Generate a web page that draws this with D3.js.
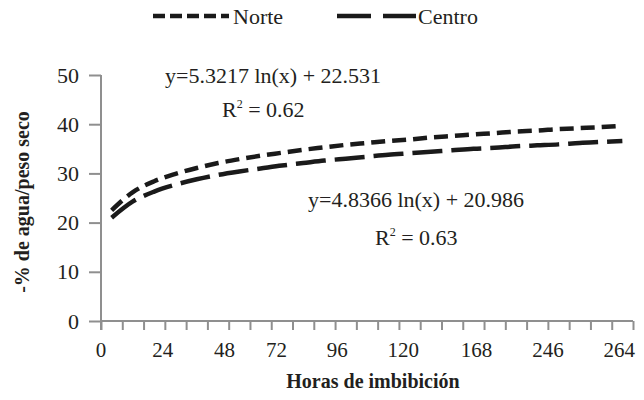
<!DOCTYPE html>
<html>
<head>
<meta charset="utf-8">
<script src="https://cdn.jsdelivr.net/npm/d3@7"></script>
<style>
  body { margin: 0; background: #fff; }
</style>
</head>
<body>
<div id="chart"></div>
<script>
// categories 1..25 (trend line values)
var categories = d3.range(1, 26);
var norte = [22.5, 26.2, 28.4, 29.9, 31.1, 32.1, 32.9, 33.6, 34.2, 34.8, 35.3, 35.8, 36.2,
  36.6, 36.9, 37.3, 37.6, 37.9, 38.2, 38.5, 38.7, 39.0, 39.2, 39.4, 39.7];
var centro = [21.0, 24.3, 26.3, 27.7, 28.8, 29.7, 30.4, 31.0, 31.6, 32.1, 32.6, 33.0, 33.4,
  33.8, 34.1, 34.4, 34.7, 35.0, 35.2, 35.5, 35.7, 35.9, 36.2, 36.4, 36.6];
// x tick labels and where they sit on the category axis
var xLabels = ["0", "24", "48", "72", "96", "120", "168", "246", "264"];
var xLabelPos = [0, 2.9, 5.8, 8.25, 11.1, 14.2, 17.65, 21.0, 24.35];
var yTicks = [0, 10, 20, 30, 40, 50];

var width = 644, height = 400;
var margin = { left: 101, right: 11, top: 75, bottom: 79 };
var w = width - margin.left - margin.right;
var h = height - margin.top - margin.bottom;
var serif = "'Liberation Serif', 'Times New Roman', serif";
var ink = "#231f20";

var svg = d3.select("#chart").append("svg")
  .attr("width", width)
  .attr("height", height)
  .attr("font-family", serif);

var g = svg.append("g")
  .attr("transform", "translate(" + margin.left + "," + margin.top + ")");

var x = d3.scaleLinear().domain([0, 25]).range([0, w]);
var y = d3.scaleLinear().domain([0, 50]).range([h, 0]);

var axisColor = "#8f8f8f";

// y axis
var yAxis = g.append("g")
  .call(d3.axisLeft(y).tickValues(yTicks).tickSize(12).tickPadding(10))
  .attr("font-family", serif)
  .attr("font-size", 22);
yAxis.select(".domain").attr("stroke", axisColor).attr("stroke-width", 2).attr("d", "M0," + (h + 9) + "V0");
yAxis.selectAll(".tick line").attr("stroke", axisColor).attr("stroke-width", 2);
yAxis.selectAll(".tick text").attr("fill", ink);

// x axis: tick marks at category boundaries, labels placed separately
var xAxis = g.append("g")
  .attr("transform", "translate(0," + h + ")")
  .call(d3.axisBottom(x).tickValues(d3.range(0, 26)).tickSize(9).tickFormat(""));
xAxis.select(".domain").attr("stroke", axisColor).attr("stroke-width", 2).attr("d", "M0,0H" + w);
xAxis.selectAll(".tick line").attr("stroke", axisColor).attr("stroke-width", 2);

g.selectAll("text.xlab")
  .data(xLabels)
  .enter()
  .append("text")
  .attr("class", "xlab")
  .attr("x", (d, i) => x(xLabelPos[i]))
  .attr("y", h + 36)
  .attr("text-anchor", "middle")
  .attr("font-size", 21)
  .attr("fill", ink)
  .text((d) => d);

// axis titles
svg.append("text")
  .attr("x", 373)
  .attr("y", 388)
  .attr("text-anchor", "middle")
  .attr("font-size", 20)
  .attr("font-weight", "bold")
  .attr("fill", ink)
  .text("Horas de imbibición");

svg.append("text")
  .attr("transform", "translate(29,202) rotate(-90)")
  .attr("text-anchor", "middle")
  .attr("font-size", 20)
  .attr("font-weight", "bold")
  .attr("fill", ink)
  .text("-% de agua/peso seco");

// trend lines
var line = d3.line()
  .x((d, i) => x(categories[i] - 0.5))
  .y((d) => y(d))
  .curve(d3.curveMonotoneX);

g.append("path")
  .datum(norte)
  .attr("fill", "none")
  .attr("stroke", "#1a1a1a")
  .attr("stroke-width", 4.5)
  .attr("stroke-dasharray", "14,7")
  .attr("d", line);

g.append("path")
  .datum(centro)
  .attr("fill", "none")
  .attr("stroke", "#1a1a1a")
  .attr("stroke-width", 4.5)
  .attr("stroke-dasharray", "30,9")
  .attr("d", line);

// equations
function eq(tx, ty, txt) {
  svg.append("text")
    .attr("x", tx)
    .attr("y", ty)
    .attr("font-size", 22)
    .attr("fill", ink)
    .text(txt);
}
function r2(tx, ty, val) {
  var t = svg.append("text")
    .attr("x", tx)
    .attr("y", ty)
    .attr("font-size", 22)
    .attr("fill", ink);
  t.append("tspan").text("R");
  t.append("tspan").attr("dy", -9).attr("font-size", 12).text("2");
  t.append("tspan").attr("dy", 9).text(" = " + val);
}
eq(165, 83, "y=5.3217 ln(x) + 22.531");
r2(222, 117, "0.62");
eq(308, 207, "y=4.8366 ln(x) + 20.986");
r2(375, 245, "0.63");

// legend
var leg = svg.append("g");
leg.append("line")
  .attr("x1", 153).attr("x2", 229).attr("y1", 16).attr("y2", 16)
  .attr("stroke", "#1a1a1a").attr("stroke-width", 4.5)
  .attr("stroke-dasharray", "12,5");
leg.append("text").attr("x", 233).attr("y", 24).attr("font-size", 22).attr("fill", ink).text("Norte");
leg.append("line")
  .attr("x1", 337).attr("x2", 416).attr("y1", 16).attr("y2", 16)
  .attr("stroke", "#1a1a1a").attr("stroke-width", 4.5)
  .attr("stroke-dasharray", "34,12");
leg.append("text").attr("x", 418).attr("y", 24).attr("font-size", 22).attr("fill", ink).text("Centro");
</script>
</body>
</html>
